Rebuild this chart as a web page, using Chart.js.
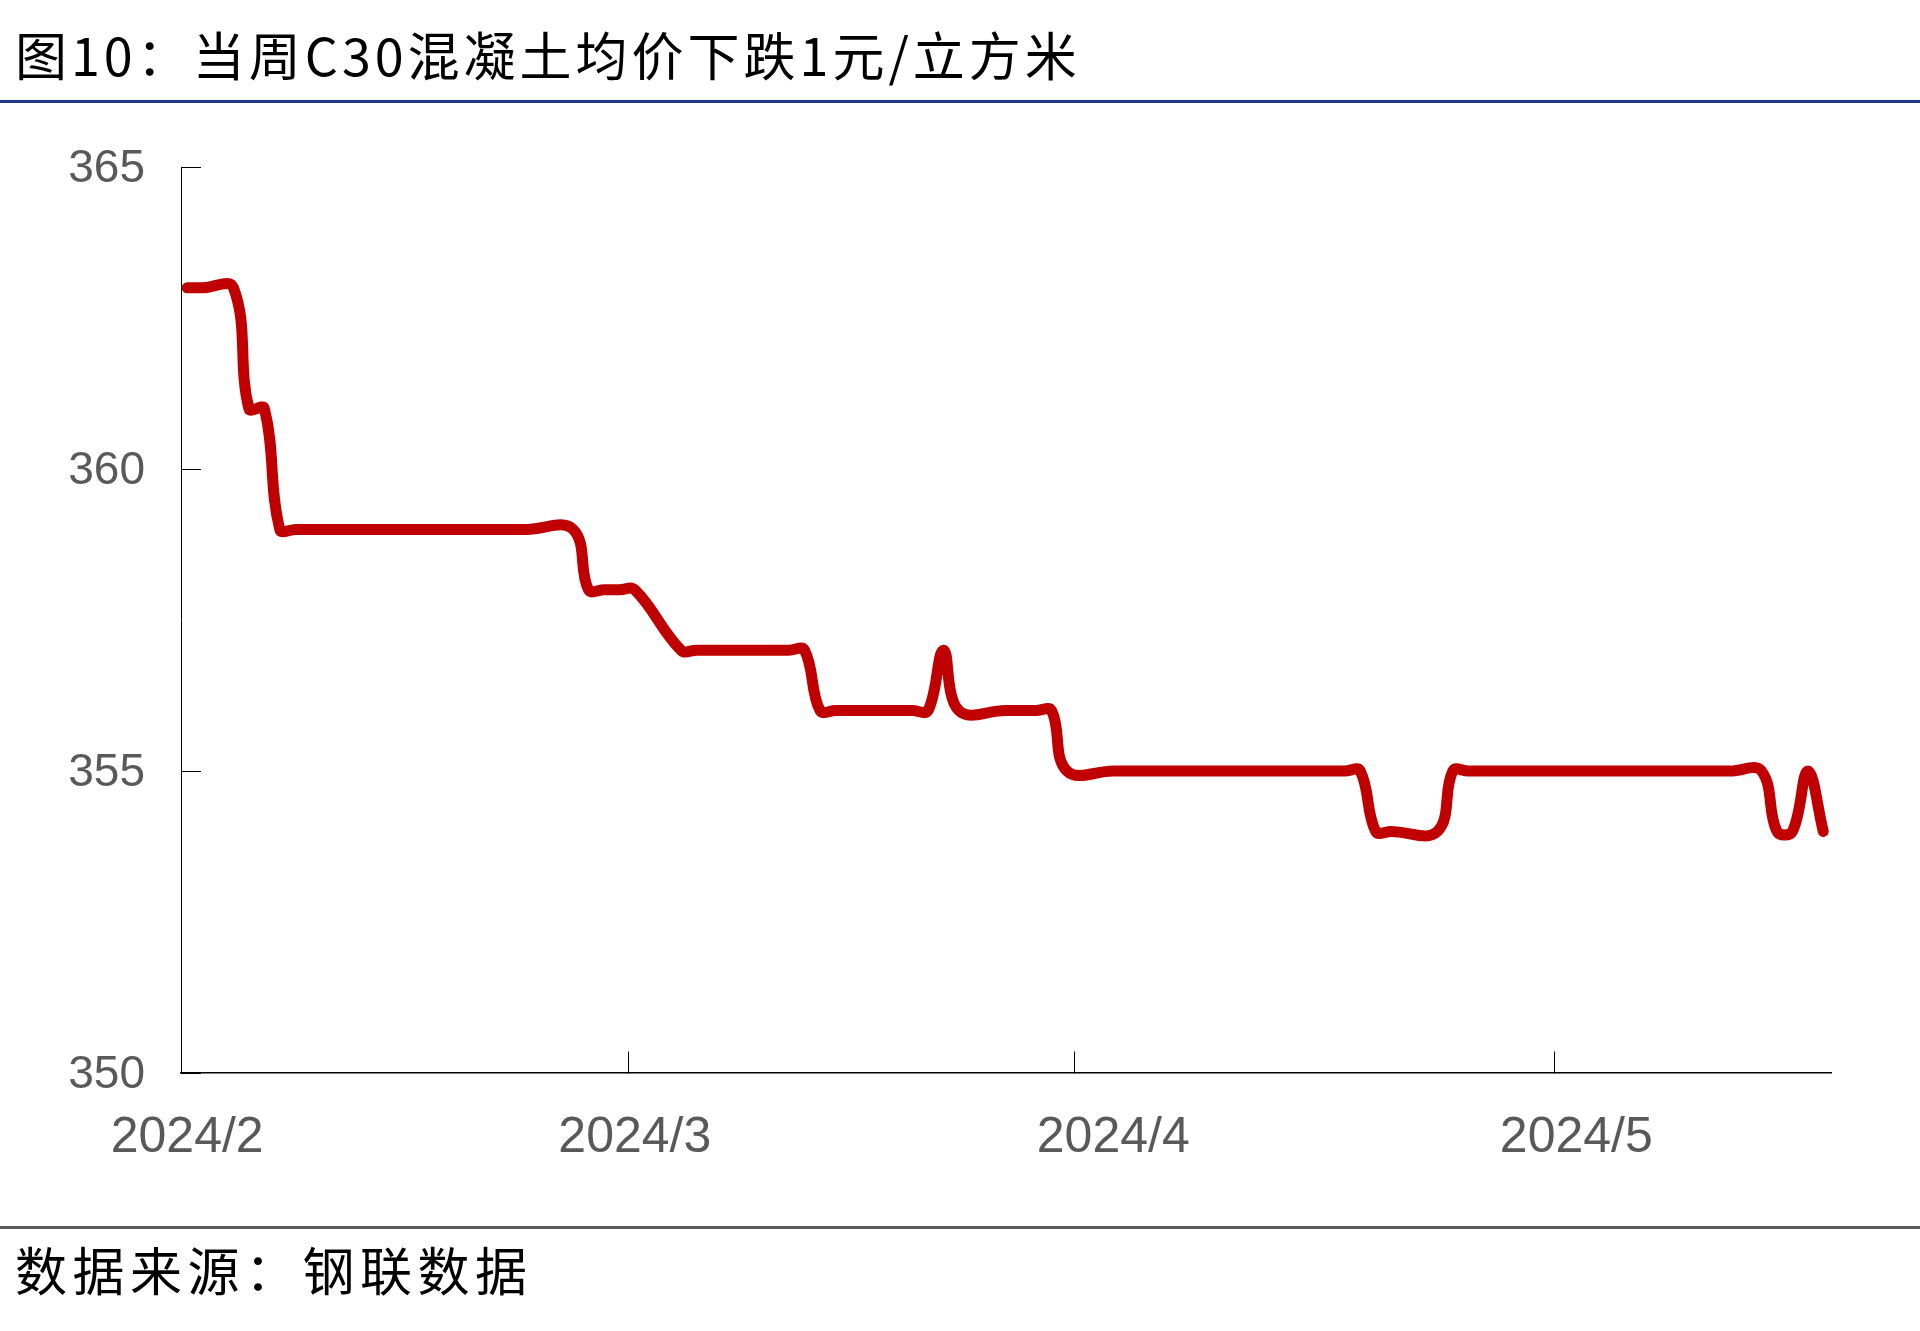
<!DOCTYPE html>
<html><head><meta charset="utf-8">
<script src="https://cdn.jsdelivr.net/npm/chart.js@4"></script>
<style>
html,body{margin:0;padding:0;background:#fff;width:1920px;height:1331px;overflow:hidden;}
#wrap{position:absolute;left:0;top:0;width:1920px;height:1331px;}
#c{position:absolute;left:0;top:0;}
.title,.src{position:absolute;left:15px;font-family:'Noto Sans CJK SC';font-size:52px;line-height:52px;letter-spacing:4px;color:#000;white-space:nowrap;}
.title{top:28px;}
.src{top:1243px;letter-spacing:5.5px;}
.blue{position:absolute;left:0;top:100px;width:1920px;height:3px;background:#1F3A87;}
.gray{position:absolute;left:0;top:1226px;width:1920px;height:3px;background:#595959;}
</style></head>
<body>
<div id="wrap">
<canvas id="c" width="1920" height="1331"></canvas>
<div class="title">图10：当周C30混凝土均价下跌1元/立方米</div>
<div class="blue"></div>
<div class="gray"></div>
<div class="src">数据来源：钢联数据</div>
</div>
<script>
// Sample dates (working days) and C30 concrete average price (元/立方米)
const dates = [
  '2024-02-01','2024-02-02','2024-02-04','2024-02-05','2024-02-06','2024-02-07','2024-02-08','2024-02-09',
  '2024-02-18','2024-02-19','2024-02-20','2024-02-21','2024-02-22','2024-02-23','2024-02-26','2024-02-27',
  '2024-02-28','2024-02-29',
  '2024-03-01','2024-03-04','2024-03-05','2024-03-06','2024-03-07','2024-03-08','2024-03-11','2024-03-12',
  '2024-03-13','2024-03-14','2024-03-15','2024-03-18','2024-03-19','2024-03-20','2024-03-21','2024-03-22',
  '2024-03-25','2024-03-26','2024-03-27','2024-03-28','2024-03-29',
  '2024-04-01','2024-04-02','2024-04-03','2024-04-07','2024-04-08','2024-04-09','2024-04-10','2024-04-11',
  '2024-04-12','2024-04-15','2024-04-16','2024-04-17','2024-04-18','2024-04-19','2024-04-22','2024-04-23',
  '2024-04-24','2024-04-25','2024-04-26','2024-04-28','2024-04-29','2024-04-30',
  '2024-05-06','2024-05-07','2024-05-08','2024-05-09','2024-05-10','2024-05-11','2024-05-13','2024-05-14',
  '2024-05-15','2024-05-16','2024-05-17'
];
const prices = [
  363,363,363,361,361,359,359,359,
  359,359,359,359,359,359,359,358,
  358,358,
  358,357,357,357,357,357,357,357,
  356,356,356,356,356,356,357,356,
  356,356,356,356,355,
  355,355,355,355,355,355,355,355,
  355,355,355,355,354,354,354,355,
  355,355,355,355,355,355,
  355,355,355,355,355,355,355,354,
  354,355,354
];
const monthDates = ['2024-02-01','2024-03-01','2024-04-01','2024-05-01'];
const monthLabels = ['2024/2','2024/3','2024/4','2024/5'];
const yTicks = [350,355,360,365];

const DAY0 = Date.parse('2024-02-01T00:00:00Z');
function dayIndex(s){ return (Date.parse(s + 'T00:00:00Z') - DAY0) / 864e5; }

const xMin = dayIndex(dates[0]) - 0.4;
const xMax = dayIndex(dates[dates.length - 1]) + 0.5;
const tickMarkDays = [28.6, 57.5, 88.6];

const points = dates.map((d, i) => ({x: dayIndex(d), y: prices[i]}));
const tickFont = {family: "'Liberation Sans', Arial, sans-serif", size: 46};

new Chart(document.getElementById('c'), {
  type: 'line',
  data: {
    datasets: [{
      data: points,
      borderColor: '#C00000',
      borderWidth: 11,
      pointRadius: 0,
      tension: 0.4,
      fill: false,
      borderCapStyle: 'round',
      borderJoinStyle: 'round'
    }]
  },
  options: {
    responsive: false,
    devicePixelRatio: 1,
    animation: false,
    layout: {padding: {top: 167, right: 89, bottom: 0, left: 0}},
    plugins: {legend: {display: false}, tooltip: {enabled: false}},
    scales: {
      x: {
        type: 'linear', position: 'bottom', min: xMin, max: xMax,
        afterBuildTicks: s => { s.ticks = monthDates.map(d => ({value: dayIndex(d)})); },
        afterFit: s => { s.height = 258; },
        ticks: {
          autoSkip: false, maxRotation: 0, minRotation: 0,
          font: {...tickFont, size: 50}, color: '#595959', padding: 35,
          callback: (v, i) => monthLabels[i]
        },
        grid: {display: false, drawTicks: false},
        border: {display: false}
      },
      x2: {
        type: 'linear', axis: 'x', position: {y: 350}, min: xMin, max: xMax,
        afterBuildTicks: s => { s.ticks = tickMarkDays.map(v => ({value: v})); },
        ticks: {display: false},
        grid: {drawOnChartArea: false, drawTicks: true, tickLength: -22, color: '#000', lineWidth: 1},
        border: {display: true, color: '#000', width: 1.5}
      },
      y: {
        type: 'linear', position: 'left', min: 350, max: 365,
        afterBuildTicks: s => { s.ticks = yTicks.map(v => ({value: v})); },
        afterFit: s => { s.width = 181; },
        ticks: {font: tickFont, color: '#595959', padding: 56, labelOffset: 2.5, callback: v => String(v)},
        grid: {drawOnChartArea: false, drawTicks: true, tickLength: -20, color: '#000', lineWidth: 1},
        border: {display: true, color: '#000', width: 1}
      }
    }
  }
});
</script>
</body></html>
